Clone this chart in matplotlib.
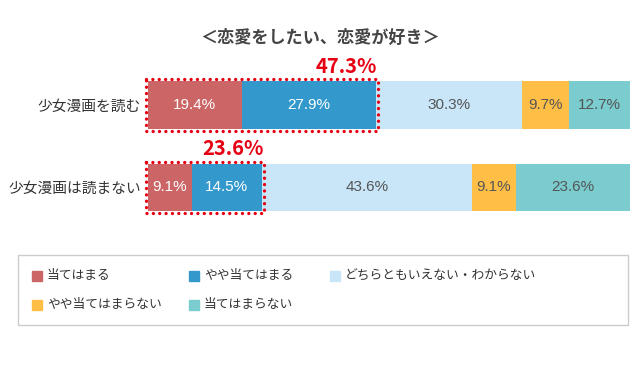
import matplotlib.pyplot as plt
from matplotlib.patches import Rectangle

plt.rcParams['font.family'] = ['Noto Sans CJK JP', 'DejaVu Sans']

# データ
groups = ['少女漫画を読む', '少女漫画は読まない']
answers = ['当てはまる', 'やや当てはまる', 'どちらともいえない・わからない',
           'やや当てはまらない', '当てはまらない']
values = [
    [19.4, 27.9, 30.3, 9.7, 12.7],
    [9.1, 14.5, 43.6, 9.1, 23.6],
]
totals = ['47.3%', '23.6%']
colors = ['#CC6666', '#3399CC', '#C8E6F8', '#FFBF47', '#7ACCCF']
text_colors = ['white', 'white', '#555555', '#555555', '#555555']

fig = plt.figure(figsize=(6.4, 3.75), dpi=100)
ax = fig.add_axes([148 / 640, 1 - 230 / 375, 482 / 640, 170 / 375])

for i, row in enumerate(values):
    left = 0
    for j, v in enumerate(row):
        ax.barh(i, v, left=left, height=0.58, color=colors[j])
        ax.text(left + v / 2, i, f'{v}%', ha='center', va='center',
                color=text_colors[j], fontsize=11, family='Liberation Sans')
        left += v
    # 当てはまる + やや当てはまる を点線で囲む
    s = row[0] + row[1]
    ax.add_patch(Rectangle((-0.4, i - 0.31), s + 0.8, 0.62, fill=False,
                           edgecolor='#E60012', linestyle=(0, (0.01, 1.9)),
                           capstyle='round', linewidth=2.4, clip_on=False))
    ax.text(s + 0.3, i - 0.34, totals[i], ha='right', va='bottom',
            color='#E60012', fontsize=14.5, fontweight='bold')

ax.set_xlim(0, 100)
ax.set_ylim(1.515, -0.545)
ax.set_yticks(range(len(groups)))
ax.set_yticklabels(groups, fontsize=10.6, color='#333333')
ax.tick_params(axis='y', length=0, pad=5)
ax.set_xticks([])
for sp in ax.spines.values():
    sp.set_visible(False)

fig.text(320 / 640, 1 - 38 / 375, '＜恋愛をしたい、恋愛が好き＞', ha='center',
         va='center', fontsize=12.3, fontweight='bold', color='#444444')

# 凡例
def fx(x):
    return x / 640

def fy(y):
    return 1 - y / 375

fig.patches.append(Rectangle((fx(18), fy(325)), fx(610), 70 / 375, fill=False,
                             edgecolor='#CCCCCC', linewidth=1,
                             transform=fig.transFigure))
col_x = [32, 189, 330]
row_y = [276, 304.5]
for k, name in enumerate(answers):
    r, c = divmod(k, 3)
    x, y = col_x[c], row_y[r]
    fig.patches.append(Rectangle((fx(x), fy(y + 5)), 10 / 640, 10 / 375,
                                 color=colors[k], transform=fig.transFigure))
    fig.text(fx(x + 15), fy(y), name, ha='left', va='center', fontsize=9.2,
             color='#333333')

plt.savefig('out.png', dpi=100)
